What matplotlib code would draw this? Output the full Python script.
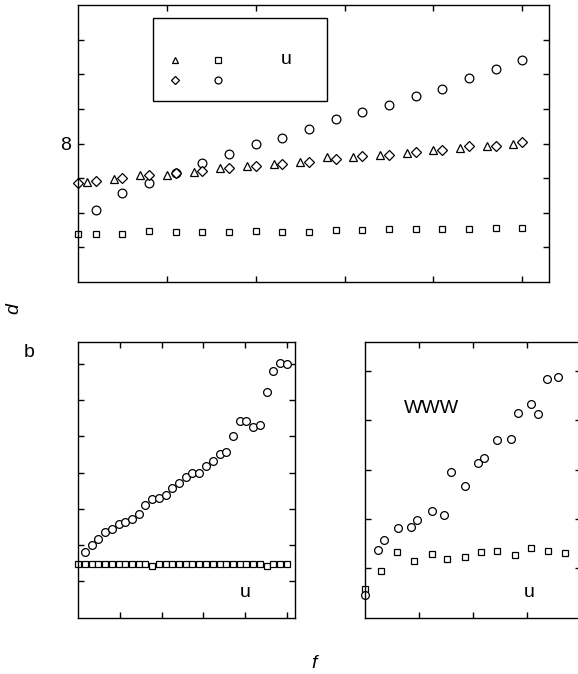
import matplotlib
matplotlib.use("Agg")
import matplotlib.pyplot as plt
from matplotlib.patches import Rectangle
from matplotlib.ticker import FixedLocator, FixedFormatter

plt.rcParams['font.family'] = ['Liberation Sans', 'DejaVu Sans']

# ---- top panel data ----
tri_x = [0.1, 0.4, 0.7, 1.0, 1.3, 1.6, 1.9, 2.2, 2.5, 2.8, 3.1, 3.4, 3.7, 4.0, 4.3, 4.6, 4.9]
tri_y = [7.45, 7.49, 7.54, 7.55, 7.59, 7.64, 7.68, 7.71, 7.74, 7.81, 7.81, 7.84, 7.86, 7.91, 7.94, 7.96, 8.00]

dia_x = [0.0, 0.2, 0.5, 0.8, 1.1, 1.4, 1.7, 2.0, 2.3, 2.6, 2.9, 3.2, 3.5, 3.8, 4.1, 4.4, 4.7, 5.0]
dia_y = [7.43, 7.46, 7.50, 7.55, 7.57, 7.60, 7.64, 7.67, 7.70, 7.74, 7.77, 7.82, 7.84, 7.88, 7.90, 7.96, 7.96, 8.02]

circ_x = [0.2, 0.5, 0.8, 1.1, 1.4, 1.7, 2.0, 2.3, 2.6, 2.9, 3.2, 3.5, 3.8, 4.1, 4.4, 4.7, 5.0]
circ_y = [7.04, 7.28, 7.43, 7.58, 7.72, 7.85, 7.99, 8.08, 8.21, 8.35, 8.45, 8.56, 8.68, 8.79, 8.94, 9.08, 9.21]

sq_x = [0.0, 0.2, 0.5, 0.8, 1.1, 1.4, 1.7, 2.0, 2.3, 2.6, 2.9, 3.2, 3.5, 3.8, 4.1, 4.4, 4.7, 5.0]
sq_y = [6.69, 6.70, 6.69, 6.73, 6.72, 6.72, 6.72, 6.73, 6.72, 6.72, 6.75, 6.75, 6.77, 6.77, 6.77, 6.77, 6.78, 6.78]

# ---- lower left panel data ----
bl_sq_x = [0.0, 0.16, 0.32, 0.48, 0.65, 0.81, 0.97, 1.13, 1.29, 1.45, 1.61, 1.77, 1.94, 2.10, 2.26, 2.42,
           2.58, 2.74, 2.90, 3.06, 3.23, 3.39, 3.55, 3.71, 3.87, 4.03, 4.19, 4.35, 4.52, 4.68, 4.84, 5.00]
bl_sq_y = [1.47, 1.47, 1.47, 1.47, 1.47, 1.47, 1.47, 1.47, 1.47, 1.47, 1.47, 1.43, 1.47, 1.47, 1.47, 1.47,
           1.47, 1.47, 1.47, 1.47, 1.47, 1.47, 1.47, 1.47, 1.47, 1.47, 1.47, 1.47, 1.43, 1.47, 1.47, 1.47]
bl_circ_x = [0.16, 0.32, 0.48, 0.65, 0.81, 0.97, 1.13, 1.29, 1.45, 1.61, 1.77, 1.94, 2.10, 2.26, 2.42, 2.58,
             2.74, 2.90, 3.06, 3.23, 3.39, 3.55, 3.71, 3.87, 4.03, 4.19, 4.35, 4.52, 4.68, 4.84, 5.00]
bl_circ_y = [1.80, 2.00, 2.16, 2.35, 2.44, 2.57, 2.64, 2.71, 2.86, 3.10, 3.28, 3.31, 3.37, 3.58, 3.72, 3.87,
             3.99, 3.99, 4.17, 4.33, 4.51, 4.58, 5.00, 5.43, 5.43, 5.27, 5.32, 6.23, 6.81, 7.02, 6.99]

# ---- lower right panel data ----
br_circ_x = [0.0, 0.24, 0.36, 0.62, 0.85, 0.97, 1.24, 1.46, 1.60, 1.85, 2.09, 2.20, 2.44, 2.70, 2.83,
             3.07, 3.20, 3.37, 3.58]
br_circ_y = [0.47, 1.37, 1.58, 1.81, 1.84, 1.98, 2.17, 2.09, 2.96, 2.67, 3.14, 3.24, 3.60, 3.62, 4.14,
             4.33, 4.13, 4.84, 4.88]
br_sq_x = [0.0, 0.30, 0.59, 0.91, 1.24, 1.52, 1.85, 2.15, 2.45, 2.78, 3.07, 3.38, 3.70]
br_sq_y = [0.58, 0.95, 1.33, 1.14, 1.29, 1.19, 1.24, 1.33, 1.36, 1.27, 1.41, 1.36, 1.31]

W, H = 578, 674
fig = plt.figure(figsize=(W / 100, H / 100), dpi=100)


def px_axes(left, top, right, bottom):
    return fig.add_axes([left / W, 1 - bottom / H, (right - left) / W, (bottom - top) / H])


def style(ax):
    ax.tick_params(direction='in', length=4, width=1, top=True, right=True,
                   labelbottom=False, labelleft=False)
    for s in ax.spines.values():
        s.set_linewidth(1)


mk = dict(linestyle='none', markerfacecolor='white', markeredgecolor='black',
          markeredgewidth=0.9, clip_on=False)

# top panel
ax1 = px_axes(78, 5, 549, 282)
ax1.set_xlim(0, 5.3)
ax1.set_ylim(6, 10)
style(ax1)
ax1.xaxis.set_major_locator(FixedLocator([1, 2, 3, 4, 5]))
yt = [6.5, 7.0, 7.5, 8.0, 8.5, 9.0, 9.5]
ax1.yaxis.set_major_locator(FixedLocator(yt))
ax1.yaxis.set_major_formatter(FixedFormatter(['', '', '', '8', '', '', '']))
ax1.tick_params(labelleft=True, labelsize=14, pad=5)
ax1.plot(sq_x, sq_y, marker='s', markersize=4.8, **mk)
ax1.plot(circ_x, circ_y, marker='o', markersize=6.3, **mk)
ax1.plot(tri_x, tri_y, marker='^', markersize=5.2, **mk)
ax1.plot(dia_x, dia_y, marker='D', markersize=4.8, **mk)

# key box with symbols only
ax1.add_patch(Rectangle((0.1586, 0.6534), 0.3707, 0.2986, transform=ax1.transAxes,
                        facecolor='white', edgecolor='black', linewidth=1, zorder=5))
ax1.plot([0.206], [0.801], marker='^', markersize=4.5, transform=ax1.transAxes, zorder=6, **mk)
ax1.plot([0.297], [0.801], marker='s', markersize=4.5, transform=ax1.transAxes, zorder=6, **mk)
ax1.plot([0.206], [0.729], marker='D', markersize=4.3, transform=ax1.transAxes, zorder=6, **mk)
ax1.plot([0.297], [0.729], marker='o', markersize=5.0, transform=ax1.transAxes, zorder=6, **mk)
ax1.text(0.4416, 0.805, 'u', transform=ax1.transAxes, fontsize=14, ha='center', va='center', zorder=6)

# lower left panel
ax2 = px_axes(78.3, 342, 295, 617.7)
ax2.set_xlim(0, 5.2)
ax2.set_ylim(0, 7.6)
style(ax2)
ax2.xaxis.set_major_locator(FixedLocator([1, 2, 3, 4, 5]))
ax2.yaxis.set_major_locator(FixedLocator([1, 2, 3, 4, 5, 6, 7]))
ax2.plot(bl_sq_x, bl_sq_y, marker='s', markersize=5.0, **mk)
ax2.plot(bl_circ_x, bl_circ_y, marker='o', markersize=5.6, **mk)
ax2.text(0.769, 0.093, 'u', transform=ax2.transAxes, fontsize=14, ha='center', va='center')

# lower right panel
ax3 = px_axes(365, 342.3, 581, 617.7)
ax3.set_xlim(0, 4)
ax3.set_ylim(0, 5.58)
style(ax3)
ax3.xaxis.set_major_locator(FixedLocator([1, 2, 3]))
ax3.yaxis.set_major_locator(FixedLocator([1, 2, 3, 4, 5]))
ax3.plot(br_sq_x, br_sq_y, marker='s', markersize=4.8, **mk)
ax3.plot(br_circ_x, br_circ_y, marker='o', markersize=5.6, **mk)
ax3.text(0.759, 0.093, 'u', transform=ax3.transAxes, fontsize=14, ha='center', va='center')
ax3.text(0.306, 0.761, 'WWW', transform=ax3.transAxes, fontsize=14, ha='center', va='center')

# figure-level labels
fig.text(14 / W, 1 - 309 / H, 'd', fontsize=14, style='italic', rotation=90, ha='center', va='center')
fig.text(29 / W, 1 - 352 / H, 'b', fontsize=14, ha='center', va='center')
fig.text(314 / W, 1 - 663 / H, 'f', fontsize=14, style='italic', ha='center', va='center')

fig.savefig('out.png', dpi=100)
